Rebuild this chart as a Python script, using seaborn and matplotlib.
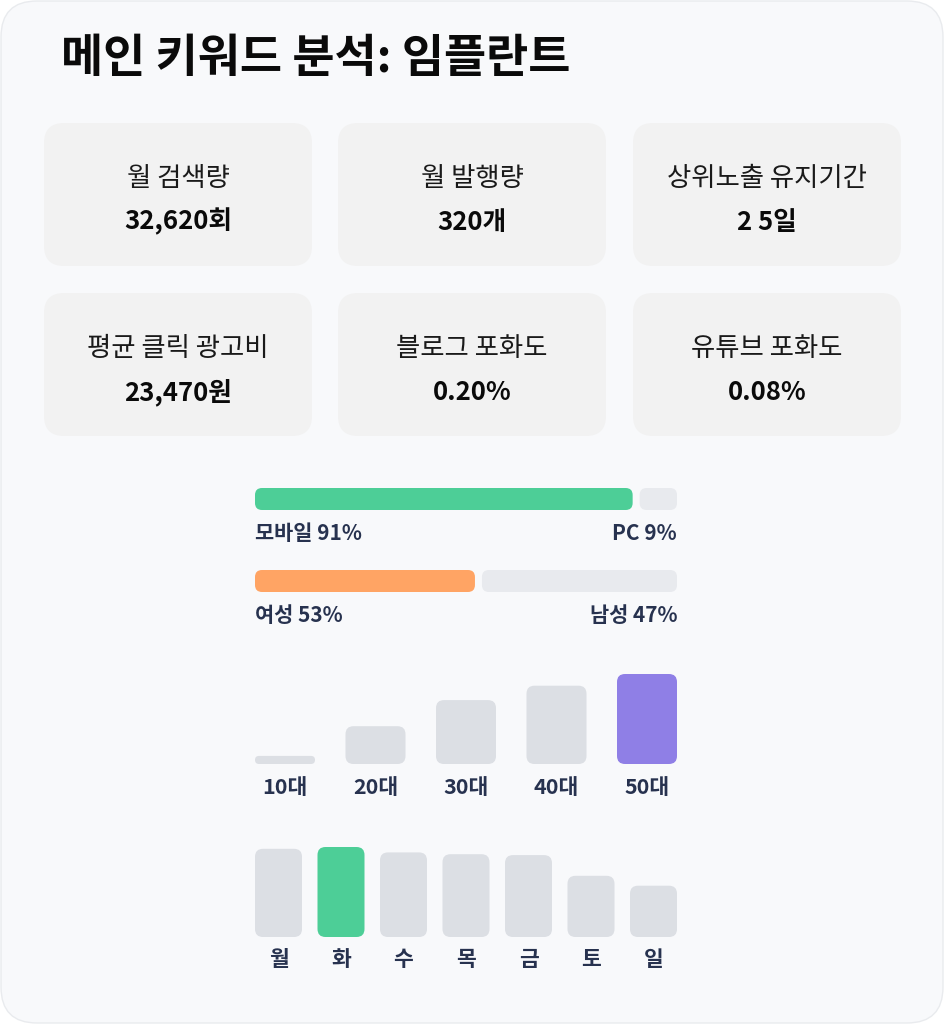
import matplotlib
matplotlib.use("Agg")
import matplotlib.pyplot as plt
from matplotlib.patches import FancyBboxPatch
import seaborn as sns

# data
title = "메인 키워드 분석: 임플란트"
card_labels = ["월 검색량", "월 발행량", "상위노출 유지기간",
               "평균 클릭 광고비", "블로그 포화도", "유튜브 포화도"]
card_values = ["32,620회", "320개", "2 5일", "23,470원", "0.20%", "0.08%"]
device_labels = ["모바일", "PC"]
device_share = [91, 9]
gender_labels = ["여성", "남성"]
gender_share = [53, 47]
age_groups = ["10대", "20대", "30대", "40대", "50대"]
age_values = [9, 42, 71, 87, 100]
weekdays = ["월", "화", "수", "목", "금", "토", "일"]
weekday_values = [98, 100, 94, 92, 91, 68, 57]

W, H = 944, 1024
NAVY = "#27324f"
BAR_GRAY = "#dcdfe4"
TRACK = "#e8eaee"

sns.set_style("white")
plt.rcParams["font.family"] = ["Noto Sans CJK KR", "DejaVu Sans"]


def frac(x0, y0, x1, y1):
    return [x0 / W, 1 - y1 / H, (x1 - x0) / W, (y1 - y0) / H]


def round_bars(ax, radius):
    pos = ax.get_position()
    x0, x1 = ax.get_xlim()
    y0, y1 = ax.get_ylim()
    ux = (x1 - x0) / (pos.width * W)
    uy = (y1 - y0) / (pos.height * H)
    for p in list(ax.patches):
        x, y, w, h = p.get_x(), p.get_y(), p.get_width(), p.get_height()
        r = min(radius, abs(w) / ux / 2, abs(h) / uy / 2)
        fc = p.get_facecolor()
        p.remove()
        ax.add_patch(FancyBboxPatch((x, y), w, h,
                                    boxstyle=f"round,pad=0,rounding_size={r * ux}",
                                    mutation_aspect=uy / ux, fc=fc, ec="none",
                                    lw=0, clip_on=False))
    ax.set_xlim(x0, x1)
    ax.set_ylim(y0, y1)


fig = plt.figure(figsize=(W / 100, H / 100), dpi=100)
fig.patch.set_facecolor("white")

bg = fig.add_axes([0, 0, 1, 1])
bg.set_xlim(0, W)
bg.set_ylim(H, 0)
bg.axis("off")
bg.add_patch(FancyBboxPatch((1, 1), W - 2, H - 2,
                            boxstyle="round,pad=0,rounding_size=36",
                            fc="#f8f9fb", ec="#e9ebee", lw=1))

bg.text(61, 59, title, fontsize=33, weight="black", color="#0a0a0a",
        ha="left", va="center")

# metric cards
col_x = [44, 338, 633]
row_y = [123, 293]
for i, (lab, val) in enumerate(zip(card_labels, card_values)):
    cx = col_x[i % 3]
    cy = row_y[i // 3]
    bg.add_patch(FancyBboxPatch((cx, cy), 268, 143,
                                boxstyle="round,pad=0,rounding_size=20",
                                fc="#f2f2f2", ec="none"))
    bg.text(cx + 134, cy + 55, lab, fontsize=19, color="#1a1a1a",
            ha="center", va="center")
    bg.text(cx + 134, cy + 99, val, fontsize=18.5, weight="black",
            color="#0a0a0a", ha="center", va="center")

# split bars
gap = 7 / 422 * 100
splits = [(device_labels, device_share, "#4dce97", 488, 534),
          (gender_labels, gender_share, "#ffa464", 570, 615)]
for labels, share, color, top, ty in splits:
    ax = fig.add_axes(frac(255, top, 677, top + 22))
    first = share[0] * (100 - gap) / 100
    second = share[1] * (100 - gap) / 100
    ax.barh(0, first, left=0, height=1, color=color)
    ax.barh(0, second, left=first + gap, height=1, color=TRACK)
    ax.set_xlim(0, 100)
    ax.set_ylim(-0.5, 0.5)
    ax.axis("off")
    round_bars(ax, 7)
    bg.text(255, ty, f"{labels[0]} {share[0]}%", fontsize=15, weight="semibold",
            color=NAVY, ha="left", va="center")
    bg.text(677, ty, f"{labels[1]} {share[1]}%", fontsize=15, weight="semibold",
            color=NAVY, ha="right", va="center")

# age distribution
ax_age = fig.add_axes(frac(239.75, 674, 692.25, 764))
age_pal = [BAR_GRAY] * 4 + ["#8f7fe6"]
sns.barplot(x=age_groups, y=age_values, hue=age_groups, palette=age_pal,
            width=0.663, saturation=1, legend=False, ax=ax_age)
ax_age.set_xlim(-0.5, 4.5)
ax_age.set_ylim(0, 100)

# weekday distribution
ax_day = fig.add_axes(frac(247.25, 847, 684.75, 937))
day_pal = [BAR_GRAY, "#4dce97"] + [BAR_GRAY] * 5
sns.barplot(x=weekdays, y=weekday_values, hue=weekdays, palette=day_pal,
            width=0.752, saturation=1, legend=False, ax=ax_day)
ax_day.set_xlim(-0.5, 6.5)
ax_day.set_ylim(0, 100)

for ax in (ax_age, ax_day):
    ax.set_facecolor("none")
    sns.despine(ax=ax, left=True, bottom=True)
    ax.set_xlabel("")
    ax.set_ylabel("")
    ax.set_yticks([])
    ax.tick_params(axis="x", length=0, pad=9, labelsize=15.5, labelcolor=NAVY)
    for t in ax.get_xticklabels():
        t.set_fontweight("semibold")
    round_bars(ax, 8)

fig.savefig("out.png", dpi=100, facecolor="white")
